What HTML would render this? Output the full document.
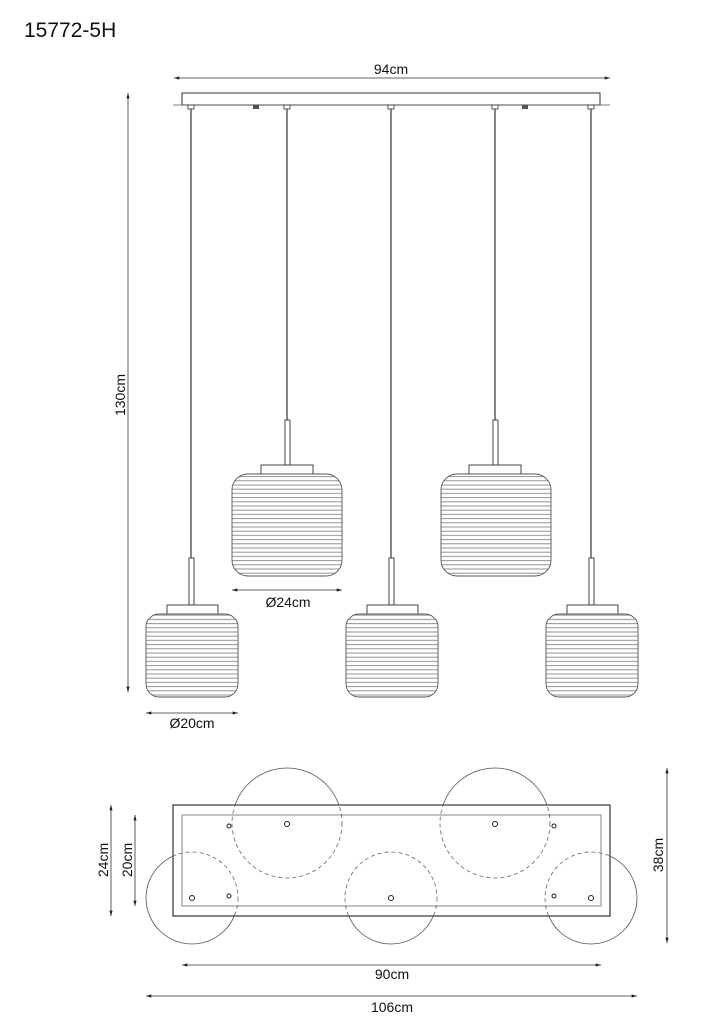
<!DOCTYPE html>
<html><head><meta charset="utf-8"><style>
html,body{margin:0;padding:0;background:#fff;}
svg{display:block;}
text{font-family:"Liberation Sans",Arial,sans-serif;fill:#111;}
</style></head><body>
<svg width="724" height="1024" viewBox="0 0 724 1024" xmlns="http://www.w3.org/2000/svg">
<defs>
<marker id="a" viewBox="0 0 10 6" refX="10" refY="3" markerWidth="7" markerHeight="4" orient="auto-start-reverse"><path d="M0,0 L10,3 L0,6 z" fill="#222"/></marker>
<pattern id="rib" width="10" height="4.2" patternUnits="userSpaceOnUse"><rect width="10" height="4.2" fill="#fff"/><line x1="0" y1="2" x2="10" y2="2" stroke="#888" stroke-width="0.9"/></pattern>
<clipPath id="out"><path d="M0,0 H724 V1024 H0 Z M173,805 V916 H610 V805 Z" clip-rule="evenodd"/></clipPath>
<clipPath id="in"><rect x="173" y="805" width="437" height="111"/></clipPath>
</defs>
<text x="24" y="37" font-size="21">15772-5H</text>

<line x1="174" y1="78" x2="610" y2="78" stroke="#333" stroke-width="0.8" marker-start="url(#a)" marker-end="url(#a)"/>
<text x="391" y="74" font-size="14" text-anchor="middle">94cm</text>
<rect x="182" y="93" width="418" height="12" fill="#fff" stroke="#333" stroke-width="1"/>
<line x1="173" y1="105" x2="610" y2="105" stroke="#555" stroke-width="0.8"/>
<g fill="#fff" stroke="#333" stroke-width="0.8">
<rect x="188" y="105" width="6" height="4"/><rect x="284" y="105" width="6" height="4"/><rect x="388" y="105" width="6" height="4"/><rect x="492" y="105" width="6" height="4"/><rect x="588" y="105" width="6" height="4"/>
</g>
<rect x="253" y="105" width="6" height="4" fill="#555"/><rect x="522" y="105" width="6" height="4" fill="#555"/>

<line x1="128" y1="93" x2="128" y2="692" stroke="#333" stroke-width="0.8" marker-start="url(#a)" marker-end="url(#a)"/>
<text x="125" y="395" font-size="14" text-anchor="middle" transform="rotate(-90 125 395)">130cm</text>

<g stroke="#444" stroke-width="1.3" fill="none">
<line x1="191" y1="109" x2="191" y2="558"/>
<line x1="287" y1="109" x2="287" y2="420"/>
<line x1="391" y1="109" x2="391" y2="558"/>
<line x1="495" y1="109" x2="495" y2="420"/>
<line x1="591" y1="109" x2="591" y2="558"/>
</g>
<g fill="#fff" stroke="#333" stroke-width="0.9">
<rect x="189" y="558" width="5" height="47"/>
<rect x="389" y="558" width="5" height="47"/>
<rect x="589" y="558" width="5" height="47"/>
<rect x="285" y="420" width="5" height="45"/>
<rect x="493" y="420" width="5" height="45"/>
<rect x="167" y="605" width="51" height="9"/>
<rect x="367" y="605" width="51" height="9"/>
<rect x="567" y="605" width="51" height="9"/>
<rect x="261" y="465" width="52" height="9"/>
<rect x="469" y="465" width="52" height="9"/>
</g>
<g fill="url(#rib)" stroke="#555" stroke-width="0.9">
<rect x="146" y="614" width="92" height="83" rx="13"/>
<rect x="346" y="614" width="92" height="83" rx="13"/>
<rect x="546" y="614" width="92" height="83" rx="13"/>
<rect x="232" y="474" width="110" height="102" rx="16"/>
<rect x="441" y="474" width="110" height="102" rx="16"/>
</g>

<line x1="232" y1="590" x2="342" y2="590" stroke="#333" stroke-width="0.8" marker-start="url(#a)" marker-end="url(#a)"/>
<text x="288" y="607" font-size="14" text-anchor="middle">Ø24cm</text>
<line x1="146" y1="713" x2="238" y2="713" stroke="#333" stroke-width="0.8" marker-start="url(#a)" marker-end="url(#a)"/>
<text x="192" y="728" font-size="14" text-anchor="middle">Ø20cm</text>

<rect x="173" y="805" width="437" height="111" fill="#fff" stroke="#333" stroke-width="1.2"/>
<rect x="182" y="815" width="419" height="91" fill="none" stroke="#999" stroke-width="1.2"/>
<g fill="none" stroke="#555" stroke-width="0.8" clip-path="url(#out)">
<circle cx="287" cy="823" r="55"/><circle cx="495" cy="823" r="55"/>
<circle cx="192" cy="898" r="46"/><circle cx="391" cy="898" r="46"/><circle cx="591" cy="898" r="46"/>
</g>
<g fill="none" stroke="#666" stroke-width="0.8" stroke-dasharray="4,3" clip-path="url(#in)">
<circle cx="287" cy="823" r="55"/><circle cx="495" cy="823" r="55"/>
<circle cx="192" cy="898" r="46"/><circle cx="391" cy="898" r="46"/><circle cx="591" cy="898" r="46"/>
</g>
<g fill="#fff" stroke="#222" stroke-width="1">
<circle cx="287" cy="824" r="2.5"/><circle cx="495" cy="824" r="2.5"/>
<circle cx="192" cy="898" r="2.5"/><circle cx="391" cy="898" r="2.5"/><circle cx="591" cy="898" r="2.5"/>
<circle cx="229" cy="826" r="2"/><circle cx="229" cy="896" r="2"/>
<circle cx="554" cy="826" r="2"/><circle cx="554" cy="896" r="2"/>
</g>

<line x1="111" y1="805" x2="111" y2="916" stroke="#333" stroke-width="0.8" marker-start="url(#a)" marker-end="url(#a)"/>
<text x="108" y="860" font-size="14" text-anchor="middle" transform="rotate(-90 108 860)">24cm</text>
<line x1="135" y1="815" x2="135" y2="906" stroke="#333" stroke-width="0.8" marker-start="url(#a)" marker-end="url(#a)"/>
<text x="132" y="860" font-size="14" text-anchor="middle" transform="rotate(-90 132 860)">20cm</text>
<line x1="667" y1="768" x2="667" y2="943" stroke="#333" stroke-width="0.8" marker-start="url(#a)" marker-end="url(#a)"/>
<text x="663" y="855" font-size="14" text-anchor="middle" transform="rotate(-90 663 855)">38cm</text>
<line x1="182" y1="965" x2="601" y2="965" stroke="#333" stroke-width="0.8" marker-start="url(#a)" marker-end="url(#a)"/>
<text x="392" y="979" font-size="14" text-anchor="middle">90cm</text>
<line x1="146" y1="996" x2="637" y2="996" stroke="#333" stroke-width="0.8" marker-start="url(#a)" marker-end="url(#a)"/>
<text x="392" y="1012" font-size="14" text-anchor="middle">106cm</text>
</svg>
</body></html>
